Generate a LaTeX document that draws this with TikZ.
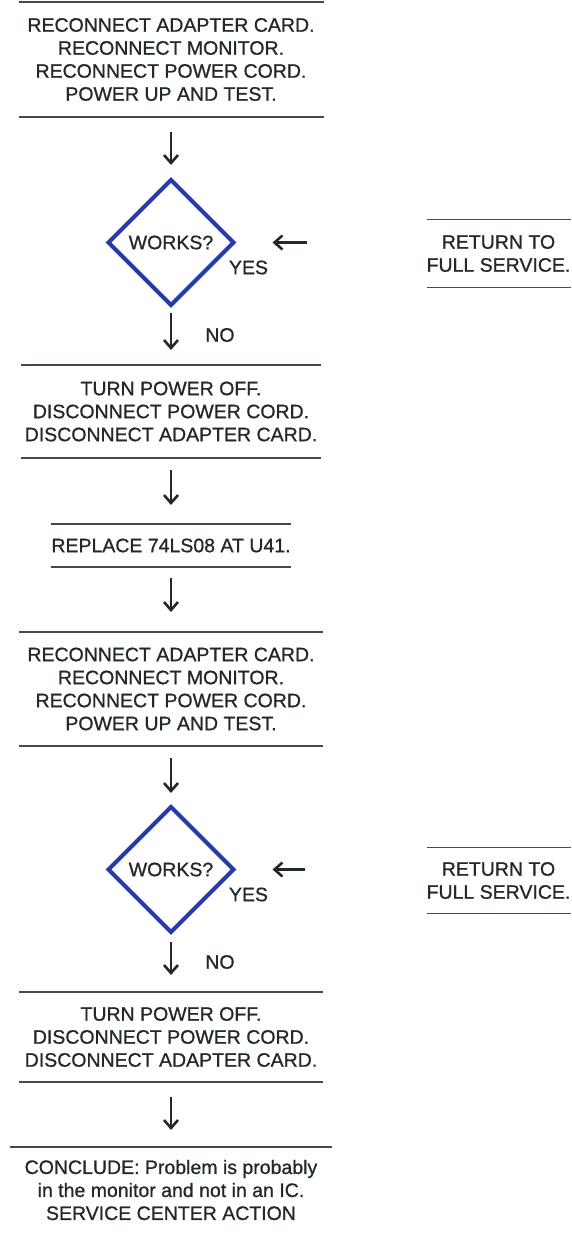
\documentclass[tikz,border=0pt]{standalone}
\usepackage{fontspec}
\setmainfont{Liberation Sans}[FakeBold=0.9]
\usetikzlibrary{arrows.meta,positioning,shapes.geometric}
\definecolor{ink}{RGB}{34,42,38}
\definecolor{worksblue}{RGB}{38,58,168}

\begin{document}
\begin{tikzpicture}[
  x=1pt, y=1pt,
  every node/.style={outer sep=0pt, text=ink},
  font=\fontsize{19.5}{23}\selectfont,
  block/.style={inner sep=0pt, align=center},
  check/.style={diamond, draw=worksblue, line width=4pt, minimum width=125pt, minimum height=125pt, inner sep=0pt},
  rule/.style={draw=ink!85, line width=1.8pt},
  line/.style={-{Straight Barb[length=8pt,width=14pt,line width=2.6pt]}, line width=2.8pt, draw=ink, shorten <=12pt, shorten >=17pt}
]
\useasboundingbox (0,0) rectangle (571,-1234);

\node[block, minimum width=305pt, minimum height=115pt] (test1) at (171,-59.5) {RECONNECT ADAPTER CARD.\\RECONNECT MONITOR.\\RECONNECT POWER CORD.\\POWER UP AND TEST.};
\node[check, below=63pt of test1] (works1) {WORKS?};
\node[block, minimum width=144pt, minimum height=68pt, right=193pt of works1, yshift=-11pt] (return1) {RETURN TO\\FULL SERVICE.};
\node[block, minimum width=300pt, minimum height=93pt, below=60pt of works1] (off1) {TURN POWER OFF.\\DISCONNECT POWER CORD.\\DISCONNECT ADAPTER CARD.};
\node[block, minimum width=233pt, minimum height=43pt, below=66pt of off1] (replace) {REPLACE 74LS08 AT U41.};
\node[block, minimum width=304pt, minimum height=114pt, below=65pt of replace] (test2) {RECONNECT ADAPTER CARD.\\RECONNECT MONITOR.\\RECONNECT POWER CORD.\\POWER UP AND TEST.};
\node[check, below=61pt of test2] (works2) {WORKS?};
\node[block, minimum width=144pt, minimum height=66pt, right=193pt of works2, yshift=-11pt] (return2) {RETURN TO\\FULL SERVICE.};
\node[block, minimum width=304pt, minimum height=90pt, below=60pt of works2] (off2) {TURN POWER OFF.\\DISCONNECT POWER CORD.\\DISCONNECT ADAPTER CARD.};
\node[block, minimum width=322pt, minimum height=86pt, below=65pt of off2] (conclude) {CONCLUDE: Problem is probably\\in the monitor and not in an IC.\\SERVICE CENTER ACTION};

\node (yes1) at ([xshift=15pt,yshift=-25pt]works1.east) {YES};
\node (yes2) at ([xshift=15pt,yshift=-25pt]works2.east) {YES};

% rules above and below each step
\foreach \n in {test1,return1,off1,replace,test2,return2,off2}
  \draw[rule] (\n.north west) -- (\n.north east) (\n.south west) -- (\n.south east);
\draw[rule] (conclude.north west) -- (conclude.north east);

\draw[line, shorten <=15pt, shorten >=15pt] (test1) -- (works1);
\draw[line, shorten <=8pt, shorten >=15pt] (works1) -- node[right=31pt] (no1) {NO} (off1);
\draw[line, shorten >=19pt] (off1) -- (replace);
\draw[line, shorten <=11pt, shorten >=20pt] (replace) -- (test2);
\draw[line, shorten >=14pt] (test2) -- (works2);
\draw[line, shorten <=10pt] (works2) -- node[right=31pt] (no2) {NO} (off2);
\draw[line, shorten <=15pt] (off2) -- (conclude);

\draw[line, shorten <=120pt, shorten >=39pt] (return1.west |- works1.east) -- (works1.east);
\draw[line, shorten <=122pt, shorten >=39pt] (return2.west |- works2.east) -- (works2.east);
\end{tikzpicture}
\end{document}
